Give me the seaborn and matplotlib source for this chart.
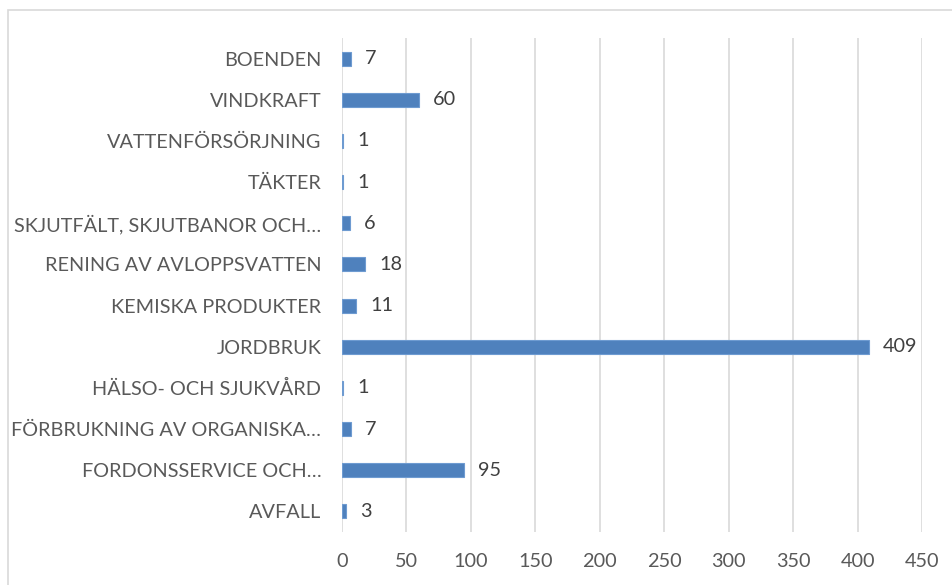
import matplotlib
matplotlib.use("Agg")
import matplotlib.pyplot as plt
import pandas as pd
import seaborn as sns
from matplotlib.patches import Rectangle

categories = [
    "BOENDEN",
    "VINDKRAFT",
    "VATTENFÖRSÖRJNING",
    "TÄKTER",
    "SKJUTFÄLT, SKJUTBANOR OCH…",
    "RENING AV AVLOPPSVATTEN",
    "KEMISKA PRODUKTER",
    "JORDBRUK",
    "HÄLSO- OCH SJUKVÅRD",
    "FÖRBRUKNING AV ORGANISKA…",
    "FORDONSSERVICE OCH…",
    "AVFALL",
]
values = [7, 60, 1, 1, 6, 18, 11, 409, 1, 7, 95, 3]
x_ticks = [0, 50, 100, 150, 200, 250, 300, 350, 400, 450]

df = pd.DataFrame({"kategori": categories, "antal": values})

sns.set_style("white")
plt.rcParams["font.family"] = ["Lato", "DejaVu Sans"]

fig = plt.figure(figsize=(9.53, 5.85), dpi=100)
ax = fig.add_axes([0.3589, 0.0906, 0.6086, 0.8444])

sns.barplot(data=df, x="antal", y="kategori", orient="h", color="#4F81BD",
            width=0.34, saturation=1, edgecolor="#6E9BD1", linewidth=0.8, ax=ax)

ax.set_xlim(0, 450)
ax.set_ylim(len(categories) - 0.5, -0.5)
ax.set_xticks(x_ticks)
ax.grid(axis="x", color="#D9D9D9", linewidth=1.2)
ax.set_axisbelow(True)
for s in ax.spines.values():
    s.set_visible(False)
ax.set_xlabel("")
ax.set_ylabel("")
ax.tick_params(axis="y", length=0, pad=15, labelsize=14.3, labelcolor="#595959")
ax.tick_params(axis="x", length=0, pad=15, labelsize=14.3, labelcolor="#595959")

ax.bar_label(ax.containers[0], labels=[str(v) for v in values], padding=10,
             fontsize=14.3, color="#404040")

# ram runt diagrammet
fig.patches.append(Rectangle((8 / 953, -0.05), 1.0, 1.0 - 10 / 585 + 0.05,
                             transform=fig.transFigure, fill=False,
                             edgecolor="#D9D9D9", linewidth=1.2))

fig.savefig("out.png", dpi=100)
